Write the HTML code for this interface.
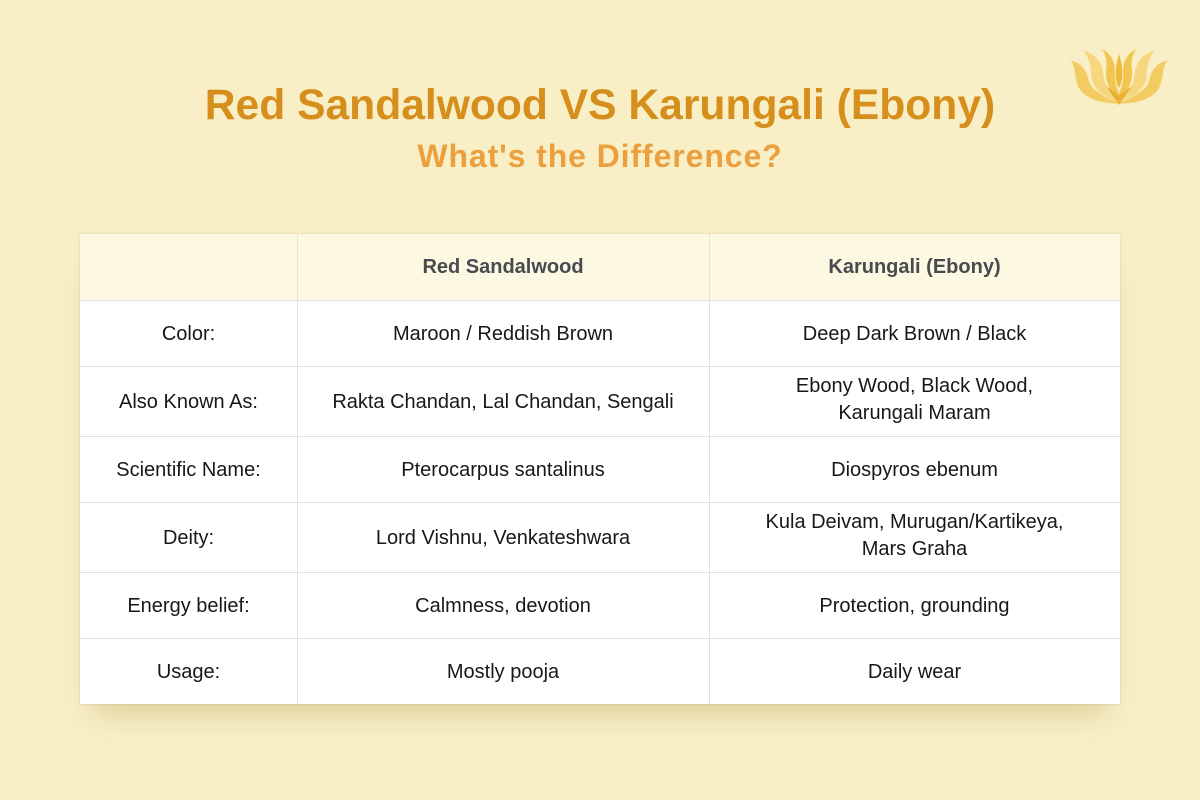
<!DOCTYPE html>
<html>
<head>
<meta charset="utf-8">
<style>
  html, body { margin:0; padding:0; }
  body {
    width:1200px; height:800px; overflow:hidden; position:relative;
    background:#F8EFC7;
    font-family:"Liberation Sans", Arial, sans-serif;
  }
  .title {
    position:absolute; left:0; width:1200px; text-align:center;
    font-weight:bold; white-space:nowrap;
  }
  #t1 { top:84px; font-size:42.6px; line-height:43px; color:#D68E1C; }
  #t2 { top:140px; font-size:32px; line-height:32px; color:#EBA03F; letter-spacing:0.9px; }
  #tbl {
    position:absolute; left:80px; top:234px; width:1040px; height:470px;
    background:#fff;
    box-shadow: 0 0 2px rgba(160,140,90,0.35), 0 22px 28px -14px rgba(170,140,60,0.35);
  }
  #hdr { position:absolute; left:0; top:0; width:1040px; height:66px; background:#FDF8E1; }
  .hl { position:absolute; left:0; width:1040px; height:1px; background:#E1E1E1; }
  .vl { position:absolute; top:0; height:470px; width:1px; background:#E1E1E1; }
  .c {
    position:absolute; display:flex; align-items:center; justify-content:center;
    text-align:center; font-size:20px; line-height:27px; color:#181818;
  }
  .h { font-weight:bold; color:#474B50; }
  .c1 { left:0; width:217px; }
  .c2 { left:217px; width:412px; }
  .c3 { left:629px; width:411px; }
</style>
</head>
<body>
<div class="title" id="t1">Red Sandalwood VS Karungali (Ebony)</div>
<div class="title" id="t2">What's the Difference?</div>

<svg style="position:absolute;left:1069px;top:46px" width="100" height="60" viewBox="0 0 100 60">
  <g stroke="#FBEBB8" stroke-width="0.8">
    <!-- outer petals -->
    <path d="M50 58 C30 58 12 52 8 38 C5 28 6 20 1 14 C12 16 18 24 20 34 C22 44 34 50 50 54 Z" fill="#F2CC62"/>
    <path d="M50 58 C70 58 88 52 92 38 C95 28 94 20 99 14 C88 16 82 24 80 34 C78 44 66 50 50 54 Z" fill="#F2CC62"/>
    <!-- middle petals -->
    <path d="M50 56 C34 52 22 42 22 28 C22 18 18 10 14 4 C28 8 34 18 35 30 C36 42 44 48 50 52 Z" fill="#F6D780"/>
    <path d="M50 56 C66 52 78 42 78 28 C78 18 82 10 86 4 C72 8 66 18 65 30 C64 42 56 48 50 52 Z" fill="#F6D780"/>
    <!-- inner petals -->
    <path d="M50 54 C40 46 35 34 37 22 C38 14 36 8 32 2 C44 8 47 18 46 28 C46 36 48 42 50 46 Z" fill="#F0C650"/>
    <path d="M50 54 C60 46 65 34 63 22 C62 14 64 8 68 2 C56 8 53 18 54 28 C54 36 52 42 50 46 Z" fill="#F0C650"/>
  </g>
  <!-- center flame -->
  <path d="M50 42 C45 33 46 22 50 8 C54 22 55 33 50 42 Z" fill="#EDBB3E"/>
  <path d="M50 59 L37 40 L50 49 L63 40 Z" fill="#EAB235"/>
</svg>

<div id="tbl">
  <div id="hdr"></div>
  <div class="hl" style="top:66px"></div>
  <div class="hl" style="top:132px"></div>
  <div class="hl" style="top:202px"></div>
  <div class="hl" style="top:268px"></div>
  <div class="hl" style="top:338px"></div>
  <div class="hl" style="top:404px"></div>
  <div class="vl" style="left:217px"></div>
  <div class="vl" style="left:629px"></div>

  <!-- header -->
  <div class="c c2 h" style="top:0;height:66px">Red Sandalwood</div>
  <div class="c c3 h" style="top:0;height:66px">Karungali (Ebony)</div>

  <!-- row 1 -->
  <div class="c c1" style="top:67px;height:66px">Color:</div>
  <div class="c c2" style="top:67px;height:66px">Maroon / Reddish Brown</div>
  <div class="c c3" style="top:67px;height:66px">Deep Dark Brown / Black</div>

  <!-- row 2 -->
  <div class="c c1" style="top:133px;height:70px">Also Known As:</div>
  <div class="c c2" style="top:133px;height:70px">Rakta Chandan, Lal Chandan, Sengali</div>
  <div class="c c3" style="top:131px;height:70px">Ebony Wood, Black Wood,<br>Karungali Maram</div>

  <!-- row 3 -->
  <div class="c c1" style="top:203px;height:66px">Scientific Name:</div>
  <div class="c c2" style="top:203px;height:66px">Pterocarpus santalinus</div>
  <div class="c c3" style="top:203px;height:66px">Diospyros ebenum</div>

  <!-- row 4 -->
  <div class="c c1" style="top:269px;height:70px">Deity:</div>
  <div class="c c2" style="top:269px;height:70px">Lord Vishnu, Venkateshwara</div>
  <div class="c c3" style="top:267px;height:70px">Kula Deivam, Murugan/Kartikeya,<br>Mars Graha</div>

  <!-- row 5 -->
  <div class="c c1" style="top:339px;height:66px">Energy belief:</div>
  <div class="c c2" style="top:339px;height:66px">Calmness, devotion</div>
  <div class="c c3" style="top:339px;height:66px">Protection, grounding</div>

  <!-- row 6 -->
  <div class="c c1" style="top:405px;height:66px">Usage:</div>
  <div class="c c2" style="top:405px;height:66px">Mostly pooja</div>
  <div class="c c3" style="top:405px;height:66px">Daily wear</div>
</div>
</body>
</html>
